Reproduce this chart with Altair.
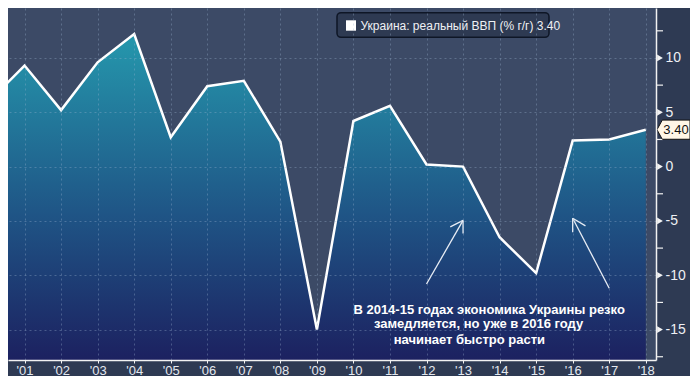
import altair as alt
import pandas as pd

# ---- data ----
years = [2000, 2001, 2002, 2003, 2004, 2005, 2006, 2007, 2008, 2009,
         2010, 2011, 2012, 2013, 2014, 2015, 2016, 2017, 2018]
gdp = [5.9, 9.3, 5.2, 9.6, 12.2, 2.7, 7.4, 7.9, 2.3, -15.0,
       4.2, 5.6, 0.2, 0.0, -6.5, -9.8, 2.4, 2.5, 3.4]

x_ticks = list(range(2001, 2019))
y_major = [-15, -10, -5, 0, 5, 10]
y_minor = [-17.5, -12.5, -7.5, -2.5, 2.5, 7.5, 12.5]

legend_label = "Украина: реальный ВВП (% г/г) 3.40"
last_value = [3.4]
last_label = ["3.40"]

note_lines = ["В 2014-15 годах экономика Украины резко",
              "замедляется, но уже в 2016 году",
              "начинает быстро расти"]
note_x = [2010.0, 2010.56, 2011.1]
note_y = [-13.2, -14.5, -15.95]

# arrows (segments in data coordinates): tail -> tip, plus barbs
seg_x = [2012.0, 2013.0, 2013.0, 2017.0, 2016.0, 2016.0]
seg_y = [-10.8, -4.95, -4.95, -11.2, -4.75, -4.75]
seg_x2 = [2013.0, 2012.65, 2013.0, 2016.0, 2016.35, 2016.0]
seg_y2 = [-4.95, -5.55, -6.15, -4.75, -5.45, -6.05]

X_DOMAIN = [2000.547, 2018.28]
Y_DOMAIN = [-17.8, 14.6]
W, H = 648, 352

df = pd.DataFrame({"year": years, "gdp": gdp})
xs = alt.Scale(domain=X_DOMAIN, nice=False, zero=False)
ys = alt.Scale(domain=Y_DOMAIN, nice=False, zero=False)

grid_kw = dict(grid=True, gridDash=[2, 3], gridColor="#9fb4d0", gridOpacity=0.35, gridWidth=1)

x_axis = alt.Axis(values=x_ticks, title=None,
                  labelExpr="\"'\" + substring(format(datum.value, 'd'), 2)",
                  labelColor="#e4e8ef", labelFontSize=13, labelFont="Liberation Sans",
                  labelPadding=1, labelFlush=False, labelOverlap=False,
                  domainColor="#f2f2f2", domainWidth=1.5,
                  tickColor="#f2f2f2", tickSize=3, zindex=1, **grid_kw)
y_axis = alt.Axis(orient="right", values=y_major, title=None, ticks=False,
                  labelExpr="datum.value < 0 ? '-' + format(-datum.value, 'd') : format(datum.value, 'd')",
                  labelColor="#eef0f4", labelFontSize=14, labelFont="Liberation Sans",
                  labelPadding=9, domainColor="#f2f2f2", domainWidth=1.5, zindex=1, **grid_kw)


def X(field):
    return alt.X(field, scale=xs, axis=x_axis)


def Y(field):
    return alt.Y(field, scale=ys, axis=y_axis)


gradient = alt.Gradient(
    gradient="linear",
    stops=[alt.GradientStop(color="#2598ad", offset=0),
           alt.GradientStop(color="#1f5586", offset=0.55),
           alt.GradientStop(color="#1c2160", offset=1)],
    x1=0, x2=0, y1=0, y2=1)

area = alt.Chart(df).mark_area(color=gradient, clip=True).encode(
    x=X("year:Q"), y=Y("gdp:Q"), y2=alt.datum(Y_DOMAIN[0]),
)
line = alt.Chart(df).mark_line(color="white", strokeWidth=2.5, clip=True).encode(
    x=X("year:Q"), y=Y("gdp:Q"),
)

major_df = pd.DataFrame({"v": y_major})
tri = alt.Chart(major_df).mark_point(shape="triangle-right", filled=True, color="#f2f2f2",
                                     size=45, opacity=1).encode(
    x=alt.value(W + 4), y=Y("v:Q"))
minor_df = pd.DataFrame({"v": y_minor})
minor = alt.Chart(minor_df).mark_rule(color="#f2f2f2", strokeWidth=1.2).encode(
    x=alt.value(W), x2=alt.value(W + 7), y=Y("v:Q"))

seg_df = pd.DataFrame({"x": seg_x, "y": seg_y, "x2": seg_x2, "y2": seg_y2})
arrows = alt.Chart(seg_df).mark_rule(color="#e8edf5", strokeWidth=1.3).encode(
    x=X("x:Q"), y=Y("y:Q"), x2="x2:Q", y2="y2:Q")

note_df = pd.DataFrame({"t": note_lines, "x": note_x, "y": note_y})
notes = alt.Chart(note_df).mark_text(align="left", baseline="middle", color="white",
                                     font="Liberation Sans", fontWeight="bold", fontSize=13).encode(
    x=X("x:Q"), y=Y("y:Q"), text="t:N")

# legend box
leg_df = pd.DataFrame({"t": [legend_label]})
leg_box = alt.Chart(leg_df).mark_rect(fill="#2e3a52", stroke="#0e1626", strokeWidth=1.5,
                                      cornerRadius=4).encode(
    x=alt.value(329), x2=alt.value(541), y=alt.value(4.7), y2=alt.value(29.3))
leg_sq = alt.Chart(leg_df).mark_rect(fill="white").encode(
    x=alt.value(338), x2=alt.value(348), y=alt.value(12.3), y2=alt.value(22.7))
leg_txt = alt.Chart(leg_df).mark_text(align="left", baseline="middle", color="#eef0f4",
                                      font="Liberation Sans", fontSize=12).encode(
    x=alt.value(352.5), y=alt.value(17.5), text="t:N")

# last-value tag on the right axis
tag_df = pd.DataFrame({"v": last_value, "t": last_label})
tag = alt.Chart(tag_df).mark_point(
    shape="M -1 0 L -0.68 -0.58 L 1 -0.58 L 1 0.58 L -0.68 0.58 Z",
    filled=True, fill="#fff6e6", stroke="#111111", strokeWidth=1, size=1090, opacity=1).encode(
    x=alt.value(665.5), y=Y("v:Q"))
tag_txt = alt.Chart(tag_df).mark_text(align="center", baseline="middle", color="#111111",
                                      font="Liberation Sans", fontSize=13).encode(
    x=alt.value(668), y=Y("v:Q"), text="t:N")

chart = alt.layer(area, line, arrows, notes, minor, tri, leg_box, leg_sq, leg_txt, tag, tag_txt).properties(
    width=W, height=H,
    autosize=alt.AutoSizeParams(type="none"),
    padding={"left": 0, "top": 0, "right": 34, "bottom": 16},
    background="#2e3a53",
).configure_view(fill="#3c4a66", stroke=None)

chart.save("out.html", embed_options={"renderer": "svg", "actions": False})
